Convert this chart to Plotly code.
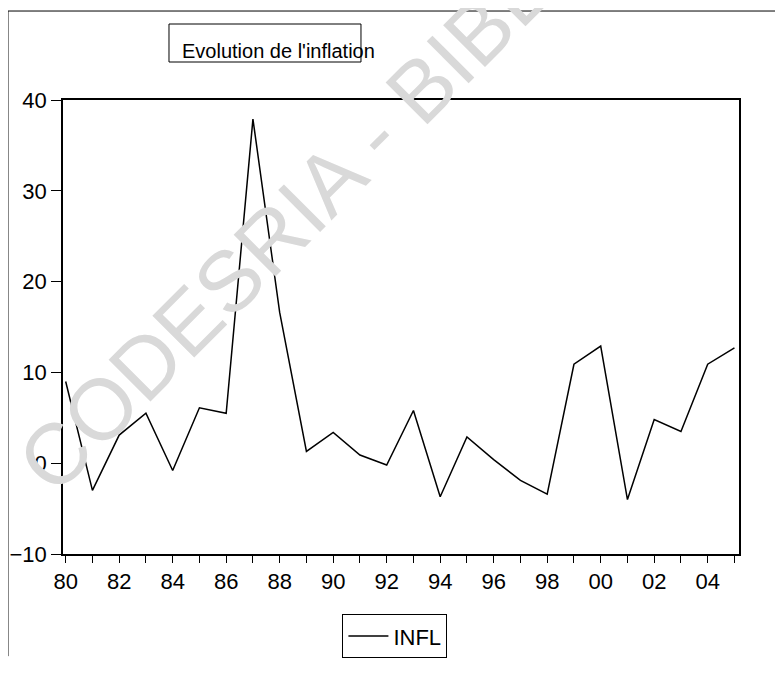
import plotly.graph_objects as go

# Inflation annuelle (%)
years = list(range(1980, 2006))
infl = [9.0, -3.0, 3.1, 5.5, -0.8, 6.1, 5.5, 37.9, 16.6, 1.3,
        3.4, 0.9, -0.2, 5.8, -3.7, 2.9, 0.4, -1.9, -3.4, 10.9,
        12.9, -4.0, 4.8, 3.5, 10.9, 12.7]

x_tick_vals = years
x_tick_text = [str(y)[2:] if y % 2 == 0 else "" for y in years]
y_tick_vals = [-10, 0, 10, 20, 30, 40]

title_text = "Evolution de l'inflation"
watermark = "CODESRIA - BIBLIOTHEQUE"

FONT = "Liberation Sans"

fig = go.Figure()
fig.add_trace(go.Scatter(
    x=years, y=infl, mode="lines", name="INFL",
    line=dict(color="black", width=1.5),
))

# la page ajoute 8 px de marge autour de la figure
fig.update_layout(
    width=775, height=672,
    margin=dict(l=55, r=44, t=92, b=126, autoexpand=False),
    paper_bgcolor="white", plot_bgcolor="white",
    font=dict(family=FONT, color="black", size=22),
    showlegend=True,
    legend=dict(
        x=0.491, y=-0.181, xanchor="center", yanchor="middle",
        bordercolor="black", borderwidth=1, bgcolor="white",
        font=dict(size=22, family=FONT),
        itemwidth=40,
    ),
)

fig.update_xaxes(
    range=[1979.9, 2005.17], automargin=False,
    tickmode="array", tickvals=x_tick_vals, ticktext=x_tick_text,
    ticks="outside", ticklen=7, tickwidth=1, tickcolor="black",
    showline=True, linecolor="black", linewidth=1.5, mirror=True,
    showgrid=False, zeroline=False,
    tickfont=dict(size=22, family=FONT),
)
fig.update_yaxes(
    range=[-10, 40], automargin=False,
    tickmode="array", tickvals=y_tick_vals,
    ticks="outside", ticklen=10, tickwidth=1, tickcolor="black",
    showline=True, linecolor="black", linewidth=1.5, mirror=True,
    showgrid=False, zeroline=False,
    tickfont=dict(size=22, family=FONT),
)

# cadre extérieur (haut + gauche) et cadre du titre
fig.add_shape(type="line", xref="paper", yref="paper",
              x0=-0.0814, x1=1.07, y0=1.196, y1=1.196,
              line=dict(color="black", width=1))
fig.add_shape(type="line", xref="paper", yref="paper",
              x0=-0.0814, x1=-0.0814, y0=1.196, y1=-0.225,
              line=dict(color="black", width=1))
fig.add_shape(type="rect", xref="paper", yref="paper",
              x0=0.1568, x1=0.4408, y0=1.0837, y1=1.1674,
              line=dict(color="black", width=1))

fig.add_annotation(
    text=title_text, xref="paper", yref="paper",
    x=0.173, y=1.108, xanchor="left", yanchor="middle",
    showarrow=False, font=dict(size=20, family=FONT, color="black"),
)

# filigrane
fig.add_annotation(
    text=watermark, xref="paper", yref="paper",
    x=0.56, y=1.07, xanchor="center", yanchor="middle",
    showarrow=False, textangle=-45,
    font=dict(size=86, family=FONT, color="#d9d9d9"),
)

fig.write_html("out.html")
